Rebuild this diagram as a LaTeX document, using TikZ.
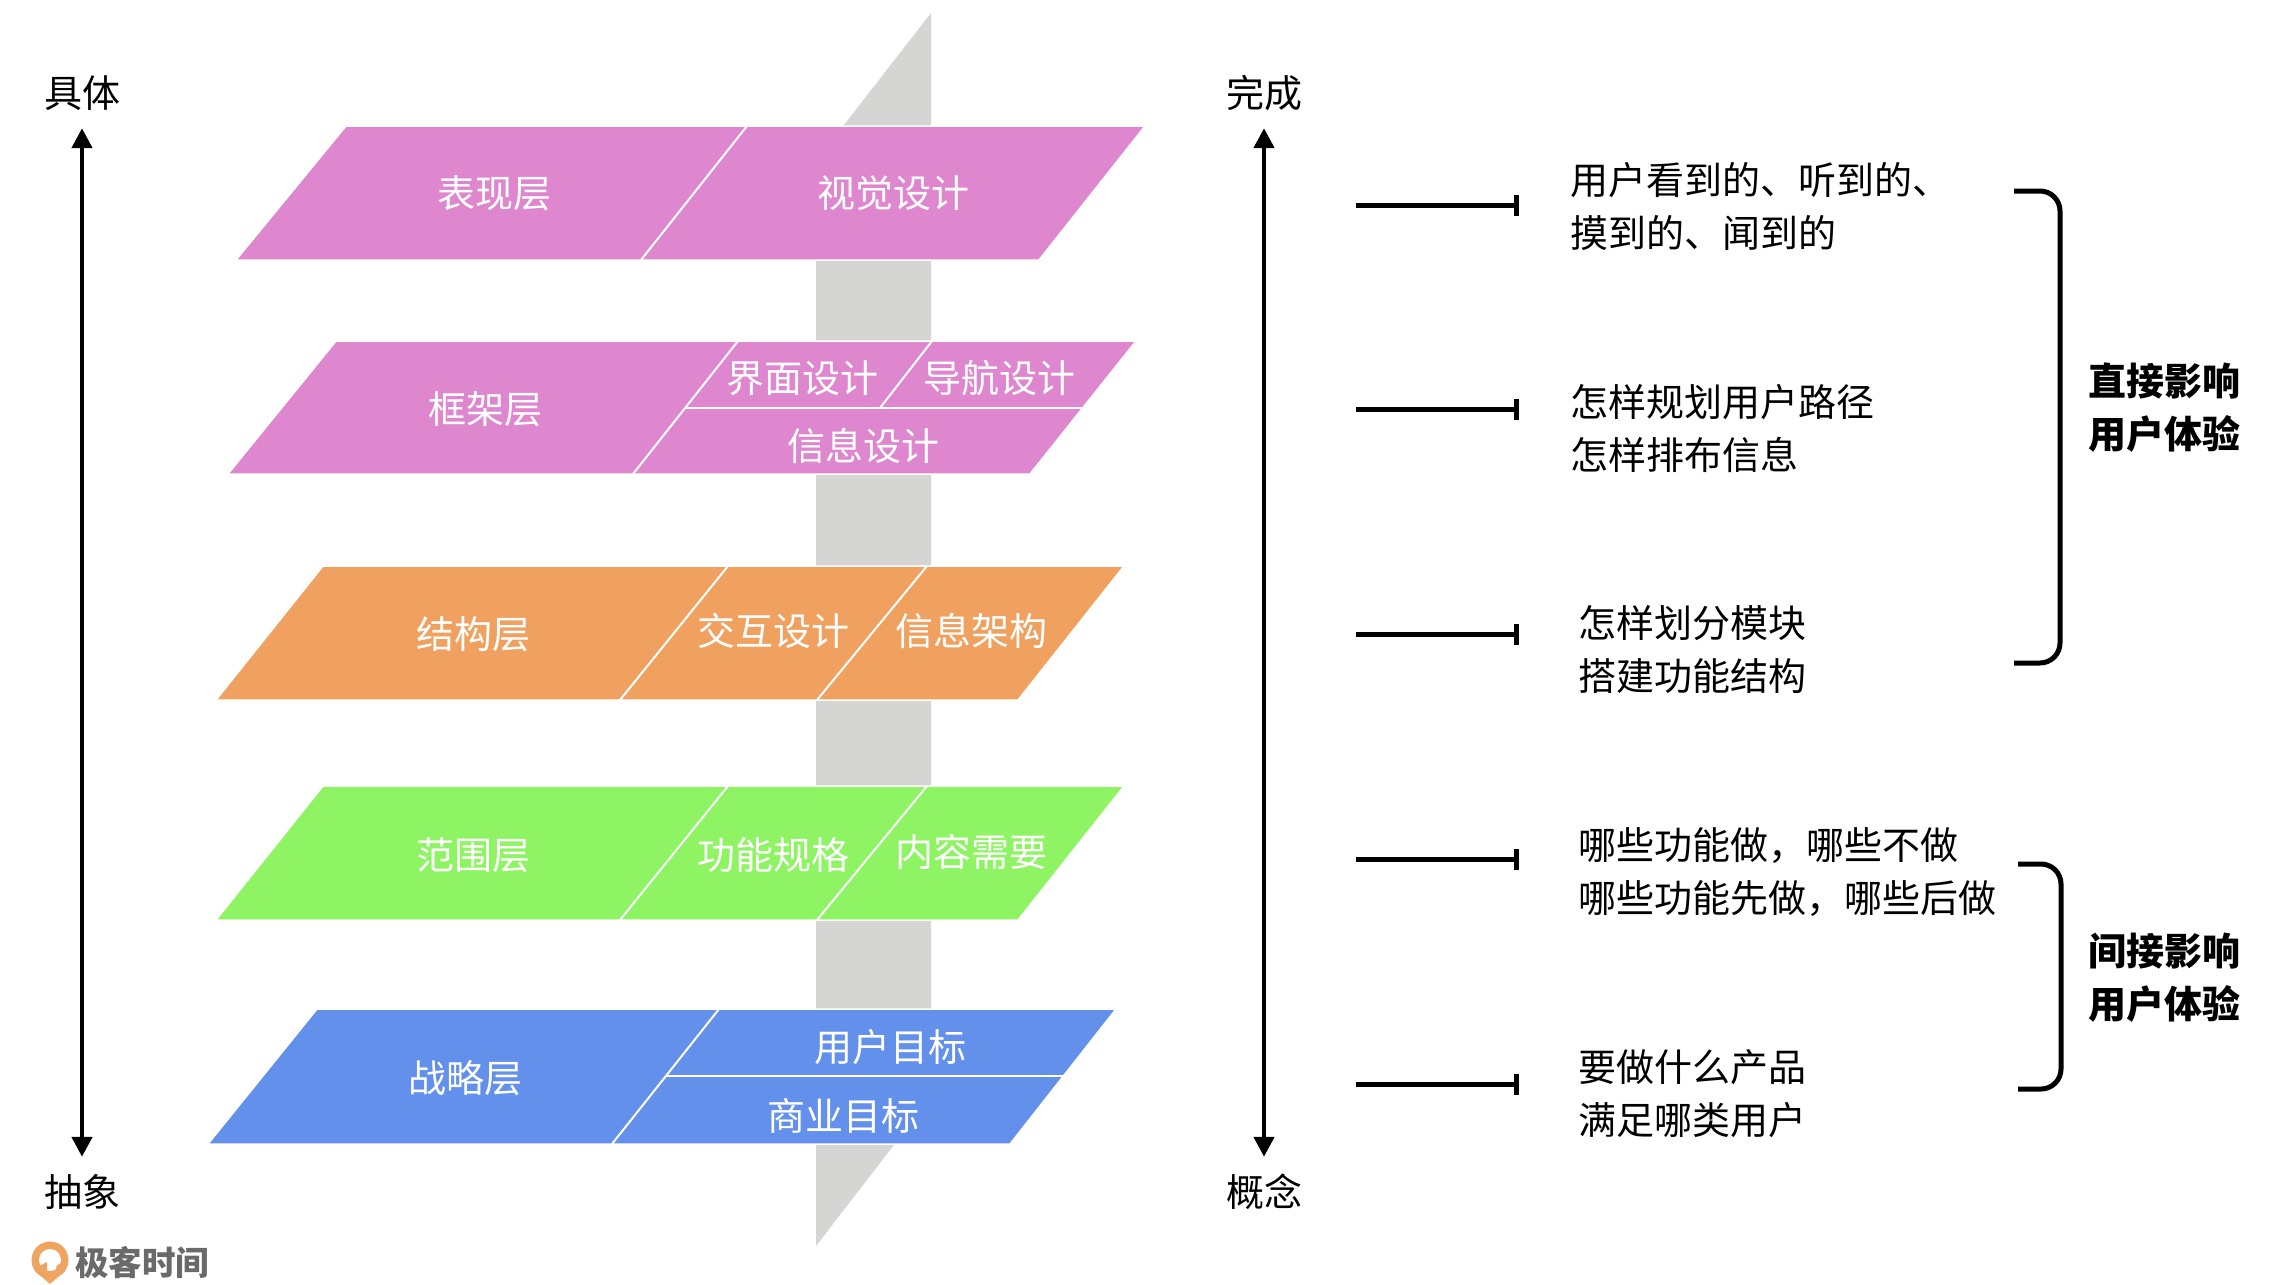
\documentclass[tikz,border=0pt]{standalone}
\usepackage{fontspec}
\setmainfont{Noto Sans CJK SC}
\usetikzlibrary{arrows.meta,calc}

\definecolor{pinklayer}{HTML}{DE87CE}
\definecolor{orangelayer}{HTML}{F0A160}
\definecolor{greenlayer}{HTML}{8EF464}
\definecolor{bluelayer}{HTML}{6290EA}
\definecolor{planegray}{HTML}{D5D5D3}
\definecolor{logoorange}{HTML}{F0A462}
\definecolor{logogray}{HTML}{6A6A6A}

\begin{document}
\begin{tikzpicture}[
    x=1pt,
    y=-1pt,
    font=\fontsize{38}{53}\selectfont,
    layer/.style={
        draw=white,
        line width=1.5pt
    },
    divider/.style={
        draw=white,
        line width=2pt
    },
    inlabel/.style={
        text=white,
        inner sep=0pt
    },
    axislabel/.style={
        inner sep=0pt,
        minimum height=70pt
    },
    note/.style={
        anchor=west,
        align=left,
        inner sep=0pt
    },
    effect/.style={
        font=\fontsize{38}{53}\selectfont\bfseries,
        align=center,
        inner sep=0pt
    },
    axis/.style={
        {Triangle[length=20pt,width=20pt]}-{Triangle[length=20pt,width=20pt]},
        line width=4.5pt
    },
    pointer/.style={
        -{Bar[width=21pt,length=5pt]},
        line width=5pt
    },
    bracket/.style={
        line width=5pt,
        rounded corners=20pt
    }
]

\useasboundingbox (0,0) rectangle (2284,1285);

% =========================================================
% PLANO GRIS
% =========================================================

\fill[planegray] (931,13) -- (931,1097) -- (816,1246) -- (816,161) -- cycle;

% =========================================================
% CAPAS
% =========================================================

\path[layer, fill=pinklayer] (346,126) -- (1145,126) -- (1039,260) -- (236,260) -- cycle;
\path[layer, fill=pinklayer] (336,341) -- (1136,341) -- (1030,474) -- (228,474) -- cycle;
\path[layer, fill=orangelayer] (323,566) -- (1124,566) -- (1018,700) -- (216,700) -- cycle;
\path[layer, fill=greenlayer] (323,786) -- (1124,786) -- (1018,920) -- (216,920) -- cycle;
\path[layer, fill=bluelayer] (317,1009) -- (1116,1009) -- (1010,1144) -- (208,1144) -- cycle;

% puntos de las divisiones
\coordinate (pres_top) at (747,126);
\coordinate (pres_bot) at (641,260);
\coordinate (frame_top) at (738,341);
\coordinate (frame_bot) at (633,474);
\coordinate (frame_mid) at (686,408);
\coordinate (frame_end) at (1082,408);
\coordinate (frame_up) at (932,341);
\coordinate (frame_down) at (880,408);
\coordinate (struct_top) at (728,566);
\coordinate (struct_bot) at (620,700);
\coordinate (struct_uptwo) at (927,566);
\coordinate (struct_bottwo) at (817,700);
\coordinate (scope_top) at (728,786);
\coordinate (scope_bot) at (620,920);
\coordinate (scope_uptwo) at (927,786);
\coordinate (scope_bottwo) at (817,920);
\coordinate (strat_top) at (719,1009);
\coordinate (strat_bot) at (612,1144);
\coordinate (strat_mid) at (667,1076);
\coordinate (strat_end) at (1064,1076);

\draw[divider] (pres_top) -- (pres_bot);
\draw[divider] (frame_top) -- (frame_bot);
\draw[divider] (frame_mid) -- (frame_end);
\draw[divider] (frame_up) -- (frame_down);
\draw[divider] (struct_top) -- (struct_bot);
\draw[divider] (struct_uptwo) -- (struct_bottwo);
\draw[divider] (scope_top) -- (scope_bot);
\draw[divider] (scope_uptwo) -- (scope_bottwo);
\draw[divider] (strat_top) -- (strat_bot);
\draw[divider] (strat_mid) -- (strat_end);

% =========================================================
% TEXTOS DE LAS CAPAS
% =========================================================

\node[inlabel] (biaoxian) at (494,193) {表现层};
\node[inlabel] (shijue) at (893,193) {视觉设计};

\node[inlabel] (kuangjia) at (485,409) {框架层};
\node[inlabel] (jiemian) at (802,378) {界面设计};
\node[inlabel] (daohang) at (999,378) {导航设计};
\node[inlabel] (xinxi) at (863,446) {信息设计};

\node[inlabel] (jiegou) at (473,634) {结构层};
\node[inlabel] (jiaohu) at (773,631) {交互设计};
\node[inlabel] (jiagou) at (971,631) {信息架构};

\node[inlabel] (fanwei) at (473,855) {范围层};
\node[inlabel] (guige) at (773,855) {功能规格};
\node[inlabel] (xuyao) at (971,852) {内容需要};

\node[inlabel] (zhanlue) at (465,1078) {战略层};
\node[inlabel] (yonghu) at (890,1047) {用户目标};
\node[inlabel] (shangye) at (843,1116) {商业目标};

% =========================================================
% EJES
% =========================================================

\node[axislabel] (juti) at (82,93) {\raisebox{-1.5pt}{具体}};
\node[axislabel] (chouxiang) at (82,1192) {\raisebox{-1.5pt}{抽象}};
\node[axislabel] (wancheng) at (1264,93) {\raisebox{-1.5pt}{完成}};
\node[axislabel] (gainian) at (1264,1192) {\raisebox{-1.5pt}{概念}};

\draw[axis] (juti.south) -- (chouxiang.north);
\draw[axis] (wancheng.south) -- (gainian.north);

% =========================================================
% NOTAS
% =========================================================

\node[note] (notepres) at (1570,206) {用户看到的、听到的、\\摸到的、闻到的};
\node[note] (noteframe) at (1570,429) {怎样规划用户路径\\怎样排布信息};
\node[note] (notestruct) at (1578,650) {怎样划分模块\\搭建功能结构};
\node[note] (notescope) at (1578,872) {哪些功能做，哪些不做\\哪些功能先做，哪些后做};
\node[note] (notestrat) at (1578,1094) {要做什么产品\\满足哪类用户};

\coordinate (startpres) at (1356,205);
\coordinate (endpres) at (1519,205);
\coordinate (startframe) at (1356,409);
\coordinate (endframe) at (1519,409);
\coordinate (startstruct) at (1356,634);
\coordinate (endstruct) at (1519,634);
\coordinate (startscope) at (1356,859);
\coordinate (endscope) at (1519,859);
\coordinate (startstrat) at (1356,1084);
\coordinate (endstrat) at (1519,1084);

\draw[pointer] (startpres) -- (endpres);
\draw[pointer] (startframe) -- (endframe);
\draw[pointer] (startstruct) -- (endstruct);
\draw[pointer] (startscope) -- (endscope);
\draw[pointer] (startstrat) -- (endstrat);

% =========================================================
% LLAVES
% =========================================================

\coordinate (directtop) at (2014,191);
\coordinate (directbot) at (2014,663);
\coordinate (indirecttop) at (2018,864);
\coordinate (indirectbot) at (2018,1089);

\draw[bracket] (directtop) -- ++(46,0) |- (directbot);
\draw[bracket] (indirecttop) -- ++(43,0) |- (indirectbot);

\node[effect] (direct) at (2164,408) {直接影响\\用户体验};
\node[effect] (indirect) at (2164,978) {间接影响\\用户体验};

% =========================================================
% LOGO
% =========================================================

\fill[logoorange] (50,1260) circle [radius=18.5];
\fill[logoorange] (34,1270) -- (50,1284) -- (66,1270) -- cycle;
\fill[white] (50,1260) circle [radius=11];
\fill[logoorange] (39,1266) -- (47,1262) -- (47,1276) -- cycle;
\fill[logoorange] (60,1268) circle [radius=4];
\node[inner sep=0pt, anchor=west, text=logogray, font=\fontsize{33.5}{33.5}\selectfont\bfseries] (logotext) at (75,1263) {极客时间};

\end{tikzpicture}
\end{document}
